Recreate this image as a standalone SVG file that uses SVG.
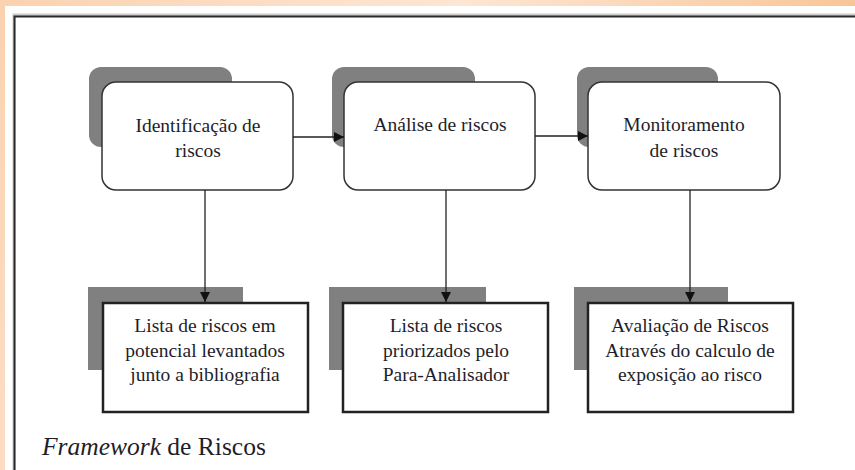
<svg xmlns="http://www.w3.org/2000/svg" width="855" height="470" viewBox="0 0 855 470">
<defs>
<linearGradient id="bg" x1="0" y1="0" x2="1" y2="0.3">
<stop offset="0" stop-color="#fbd2b0"/>
<stop offset="0.5" stop-color="#fde6d4"/>
<stop offset="1" stop-color="#f8bf8c"/>
</linearGradient>
<marker id="ah" viewBox="0 0 10 10" refX="10" refY="5" markerWidth="10" markerHeight="10" markerUnits="userSpaceOnUse" orient="auto">
<path d="M0,0 L10,5 L0,10 z" fill="#111"/>
</marker>
<style>
.shadow{fill:#808080}
.rbox{fill:#fff;stroke:#333;stroke-width:1.5}
.sbox{fill:#fff;stroke:#222;stroke-width:2.5}
.t{font-family:"Liberation Serif","Times New Roman",serif;font-size:19.5px;fill:#1e1e2a;text-anchor:middle}
.conn{stroke:#222;stroke-width:1.3;fill:none;marker-end:url(#ah)}
.cap{font-family:"Liberation Serif","Times New Roman",serif;font-size:25.5px;fill:#1e1e2a}
</style>
</defs>
<rect x="0" y="0" width="855" height="470" fill="url(#bg)"/>
<rect x="5" y="6" width="850" height="464" fill="#fff"/>
<path d="M14,470 V15 H855" fill="none" stroke="#ccc" stroke-width="3"/>
<path d="M14.5,470 V16.5 H855" fill="none" stroke="#2a2a2a" stroke-width="2"/>

<g id="n1">
<rect class="shadow" x="89" y="67" width="143" height="80" rx="12"/>
<rect class="rbox" x="102" y="82" width="191" height="108" rx="14"/>
<text class="t" x="198" y="132">Identificação de</text>
<text class="t" x="198" y="157">riscos</text>
</g>
<g id="n2">
<rect class="shadow" x="332" y="67" width="143" height="80" rx="12"/>
<rect class="rbox" x="344" y="82" width="191" height="108" rx="14"/>
<text class="t" x="440" y="131">Análise de riscos</text>
</g>
<g id="n3">
<rect class="shadow" x="577" y="67" width="141" height="80" rx="12"/>
<rect class="rbox" x="588" y="82" width="192" height="108" rx="14"/>
<text class="t" x="684" y="131">Monitoramento</text>
<text class="t" x="684" y="157">de riscos</text>
</g>
<g id="n4">
<rect class="shadow" x="88" y="287" width="155" height="83"/>
<rect class="sbox" x="103" y="303" width="205" height="109"/>
<text class="t" x="205" y="332">Lista de riscos em</text>
<text class="t" x="205" y="357">potencial levantados</text>
<text class="t" x="205" y="381">junto a bibliografia</text>
</g>
<g id="n5">
<rect class="shadow" x="329" y="287" width="157" height="83"/>
<rect class="sbox" x="343" y="303" width="205" height="109"/>
<text class="t" x="446" y="332">Lista de riscos</text>
<text class="t" x="446" y="357">priorizados pelo</text>
<text class="t" x="446" y="381">Para-Analisador</text>
</g>
<g id="n6">
<rect class="shadow" x="574" y="287" width="154" height="83"/>
<rect class="sbox" x="588" y="303" width="205" height="109"/>
<text class="t" x="690" y="332">Avaliação de Riscos</text>
<text class="t" x="690" y="357">Através do calculo de</text>
<text class="t" x="690" y="381">exposição ao risco</text>
</g>

<g id="connectors">
<line class="conn" x1="293" y1="137" x2="344" y2="137"/>
<line class="conn" x1="535" y1="136" x2="588" y2="136"/>
<line class="conn" x1="205" y1="190" x2="205" y2="302"/>
<line class="conn" x1="446" y1="190" x2="446" y2="302"/>
<line class="conn" x1="690" y1="190" x2="690" y2="302"/>
</g>

<text class="cap" x="42" y="455"><tspan font-style="italic">Framework</tspan> de Riscos</text>
</svg>
